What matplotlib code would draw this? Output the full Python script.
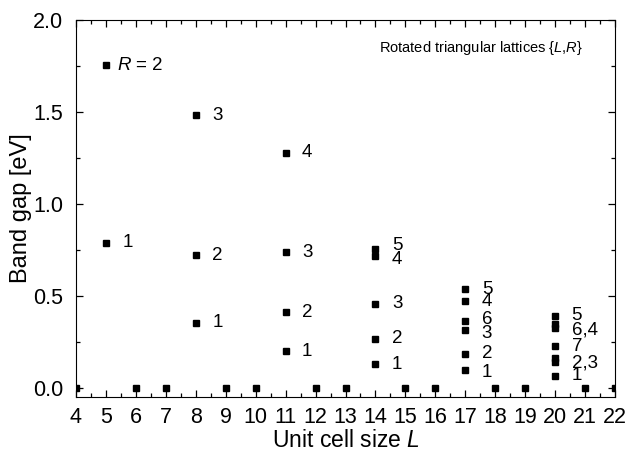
import numpy as np
import matplotlib.pyplot as plt
from matplotlib.ticker import MultipleLocator

plt.rcParams['font.family'] = ['Liberation Sans', 'DejaVu Sans']
plt.rcParams['mathtext.fontset'] = 'custom'
plt.rcParams['mathtext.rm'] = 'Liberation Sans'
plt.rcParams['mathtext.it'] = 'Liberation Sans:italic'

# band gaps of rotated lattices {L,R}
L_gap = [5, 5,
         8, 8, 8,
         11, 11, 11, 11,
         14, 14, 14, 14, 14,
         17, 17, 17, 17, 17, 17,
         20, 20, 20, 20, 20, 20, 20]
gap = [1.753, 0.789,
       1.483, 0.722, 0.353,
       1.279, 0.738, 0.411, 0.200,
       0.753, 0.717, 0.456, 0.266, 0.128,
       0.537, 0.471, 0.362, 0.315, 0.185, 0.095,
       0.392, 0.345, 0.325, 0.227, 0.160, 0.140, 0.066]

# gapless sizes
L_zero = [4, 6, 7, 9, 10, 12, 13, 15, 16, 18, 19, 21, 22]

# R labels next to the points (text, L, label height)
lab_text = ['1', '3', '2', '1', '4', '3', '2', '1',
            '5', '4', '3', '2', '1',
            '5', '4', '6', '3', '2', '1',
            '5', '6,4', '7', '2,3', '1']
lab_L = [5, 8, 8, 8, 11, 11, 11, 11,
         14, 14, 14, 14, 14,
         17, 17, 17, 17, 17, 17,
         20, 20, 20, 20, 20]
lab_y = [0.789, 1.483, 0.722, 0.353, 1.279, 0.738, 0.411, 0.200,
         0.772, 0.700, 0.456, 0.266, 0.128,
         0.537, 0.471, 0.372, 0.295, 0.185, 0.085,
         0.392, 0.315, 0.222, 0.136, 0.066]

fig = plt.figure(figsize=(6.29, 4.53), dpi=100)
ax = fig.add_axes([76 / 629, 56 / 453, 539 / 629, 377 / 453])

ax.plot(L_gap, gap, 's', color='k', markersize=5, linestyle='none')
ax.plot(L_zero, np.zeros(len(L_zero)), 's', color='k', markersize=5, linestyle='none')

for t, x, y in zip(lab_text, lab_L, lab_y):
    ax.text(x + 0.55, y, t, fontsize=13.5, va='center', ha='left')
ax.text(5.38, 1.753, r'$R$ = 2', fontsize=13.5, va='center', ha='left')

ax.text(20.95, 1.85, r'Rotated triangular lattices {$L$,$R$}', fontsize=10.5,
        va='center', ha='right')

ax.set_xlim(4, 22)
ax.set_ylim(-0.05, 2.0)
ax.xaxis.set_major_locator(MultipleLocator(1))
ax.xaxis.set_minor_locator(MultipleLocator(0.5))
ax.yaxis.set_major_locator(MultipleLocator(0.5))
ax.yaxis.set_minor_locator(MultipleLocator(0.25))
ax.yaxis.set_major_formatter(plt.FormatStrFormatter('%.1f'))
ax.tick_params(which='both', direction='in', top=True, right=True, labelsize=15.5)
ax.tick_params(which='major', length=5, width=0.9)
ax.tick_params(which='minor', length=3, width=0.9)
ax.tick_params(axis='x', pad=7)
ax.tick_params(axis='y', pad=9)

ax.set_xlabel(r'Unit cell size $L$', fontsize=16.5, labelpad=1)
ax.set_ylabel('Band gap [eV]', fontsize=17, labelpad=1)

fig.savefig('out.png', dpi=100)
